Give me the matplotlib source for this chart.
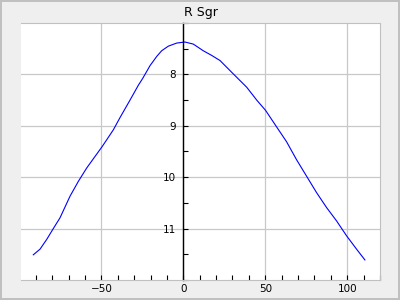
import matplotlib
matplotlib.use("Agg")
import matplotlib.pyplot as plt
from matplotlib.ticker import MultipleLocator

star_name = "R Sgr"

# phase in days relative to maximum, and visual magnitude
days = [-91.5, -87.4, -83.3, -79.3, -75.2, -69.1, -64.0, -58.9, -49.4, -42.7,
        -38.6, -32.5, -27.4, -24.8, -20.3, -16.2, -13.2, -9.1, -4.0, 1.0,
        6.1, 12.2, 17.3, 22.4, 30.5, 38.7, 44.8, 50.2, 56.9, 63.0, 69.1,
        75.2, 81.3, 87.4, 93.5, 99.6, 105.7, 110.8]
mags = [11.51, 11.40, 11.21, 11.00, 10.79, 10.37, 10.08, 9.82, 9.40, 9.08,
        8.84, 8.50, 8.21, 8.08, 7.83, 7.65, 7.54, 7.45, 7.39, 7.37,
        7.41, 7.54, 7.63, 7.73, 7.99, 8.25, 8.50, 8.70, 9.02, 9.31, 9.66,
        9.98, 10.30, 10.59, 10.85, 11.14, 11.40, 11.61]

x_ticks = [-50, 0, 50, 100]
y_ticks = [8, 9, 10, 11]

fig = plt.figure(figsize=(4, 3), dpi=100, facecolor="#efefef",
                 edgecolor="#c0c0c0", linewidth=1.5)
ax = fig.add_axes([0.0525, 0.0667, 0.8975, 0.8566])
ax.set_facecolor("white")

ax.plot(days, mags, color="blue", lw=0.8)

ax.set_xlim(-99, 120)
ax.set_ylim(12, 7)
ax.set_xticks(x_ticks)
ax.set_yticks(y_ticks)
ax.xaxis.set_minor_locator(MultipleLocator(10))
ax.yaxis.set_minor_locator(MultipleLocator(0.5))

ax.grid(True, which="major", color="#c8c8c8", lw=0.9)
ax.set_axisbelow(True)

for side in ["top", "right", "bottom"]:
    ax.spines[side].set_color("#c0c0c0")
ax.spines["left"].set_position(("data", 0))
ax.spines["left"].set_color("black")
ax.spines["left"].set_linewidth(1.0)

ax.tick_params(axis="x", which="both", direction="in", length=3.5, width=0.8,
               labelsize=7.5, pad=3)
ax.tick_params(axis="y", which="both", direction="in", length=3.5, width=0.8,
               labelsize=7.5, pad=5)

ax.set_title(star_name, fontsize=9, pad=5)

fig.savefig("out.png", dpi=100, facecolor=fig.get_facecolor(),
            edgecolor=fig.get_edgecolor())
